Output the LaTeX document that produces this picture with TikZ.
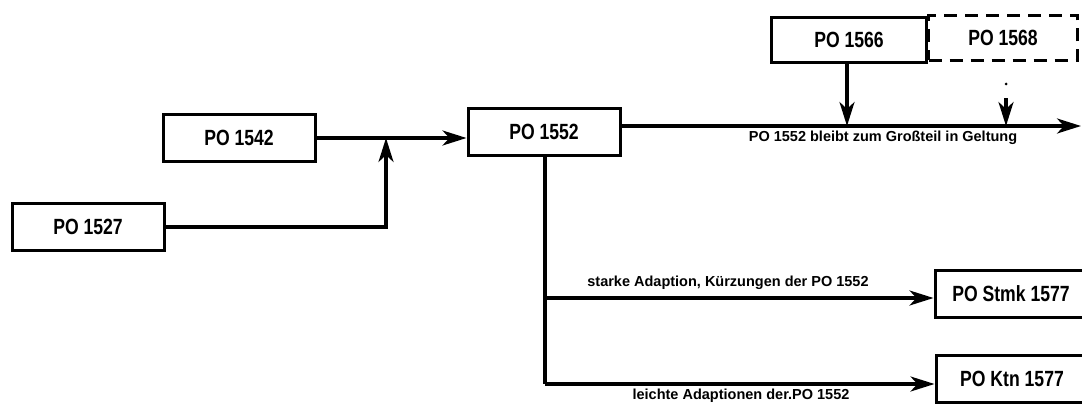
\documentclass[tikz,border=0pt]{standalone}
\usepackage{graphicx}
\usepackage{fontspec}
\setmainfont{Liberation Sans}
\usetikzlibrary{arrows.meta}
\newcommand{\potext}[1]{\scalebox{0.8}[1]{#1}}
\begin{document}
\begin{tikzpicture}[x=1pt,y=-1pt,
  pobox/.style={draw,line width=3pt,minimum width=152pt,minimum height=47pt,
    inner sep=0pt,font=\bfseries\fontsize{22}{24}\selectfont},
  flow/.style={line width=3.2pt,-{Stealth[length=24pt,width=15pt,inset=7pt]}},
  note/.style={font=\bfseries\fontsize{14.5}{16}\selectfont,inner sep=1pt}]
\useasboundingbox (0,0) rectangle (1082,404);

% boxes
\node[pobox] (po1527) at (88,227) {\potext{PO 1527}};
\node[pobox] (po1542) at (239,138) {\potext{PO 1542}};
\node[pobox] (po1552) at (544,132) {\potext{PO 1552}};
\node[pobox,minimum width=155pt,minimum height=45pt] (po1566) at (849,40) {\potext{PO 1566}};
\node[pobox,minimum width=149pt,minimum height=45pt,dash pattern=on 13pt off 8pt] (po1568) at (1003,38) {\potext{PO 1568}};
\node[pobox] (postmk) at (1011,294) {\potext{PO Stmk 1577}};
\node[pobox] (poktn) at (1012,379) {\potext{PO Ktn 1577}};

% junctions and ends
\coordinate (join) at (386,138);
\coordinate (mainend) at (1081,126);
\coordinate (split1) at (545,298);
\coordinate (split2) at (545,384);
\coordinate (dotend) at (1006,98);

% connectors
\draw[flow] (po1542.east) -- (po1542.east -| po1552.west);
\draw[flow] (po1527.east) -| (join);
\draw[flow] (po1552.east |- mainend) -- (mainend);
\draw[flow] (po1566.south -| 847,0) -- (847,126);
\draw[line width=3pt,line cap=round,dash pattern=on 0pt off 15pt]
  (po1568.south -| dotend) ++(0,22) -- (dotend);
\draw[flow] (dotend) -- (dotend |- mainend);
\draw[line width=3.2pt] (po1552.south -| split1) -- (split2);
\draw[flow] (split1) -- (split1 -| postmk.west);
\draw[flow] (split2) -- (split2 -| poktn.west);

% labels
\node[note] (lblmain) at (883,138) {PO 1552 bleibt zum Großteil in Geltung};
\node[note] (lblstmk) at (728,283) {starke Adaption, Kürzungen der PO 1552};
\node[note] (lblktn) at (741,396) {leichte Adaptionen der.PO 1552};
\end{tikzpicture}
\end{document}
